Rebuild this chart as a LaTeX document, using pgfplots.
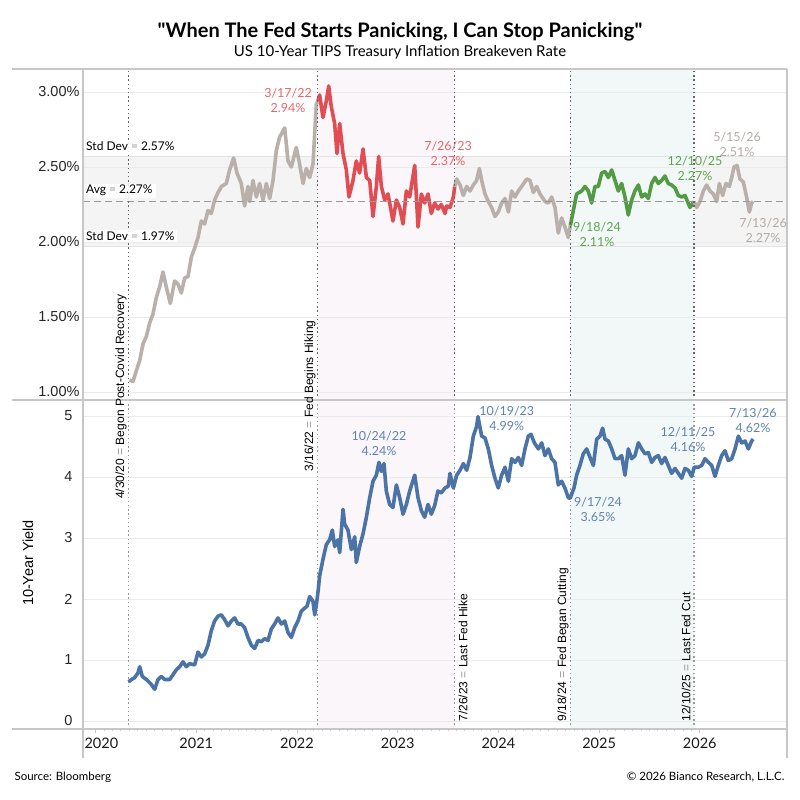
\documentclass[border=0pt]{standalone}
\usepackage{fontspec}
\setmainfont{Lato}
\newfontfamily\arial{Liberation Sans}
\usepackage{pgfplots}
\pgfplotsset{compat=1.18}
\definecolor{graySeries}{RGB}{186,176,171}
\definecolor{redSeries}{RGB}{224,78,84}
\definecolor{greenSeries}{RGB}{82,155,68}
\definecolor{blueSeries}{RGB}{75,115,165}
\definecolor{pinkshade}{RGB}{251,246,250}
\definecolor{tealshade}{RGB}{242,248,247}
\definecolor{bandgray}{RGB}{244,244,244}
\definecolor{redLbl}{RGB}{232,100,107}
\definecolor{greenLbl}{RGB}{95,165,80}
\definecolor{grayLbl}{RGB}{180,170,165}
\definecolor{blueLbl}{RGB}{95,130,180}
\definecolor{eqgray}{RGB}{150,150,150}
\begin{document}
\begin{tikzpicture}

% ---------------- TOP PANEL ----------------
\begin{axis}[
 set layers,
 at={(83pt,400pt)}, anchor=south west,
 scale only axis, width=704pt, height=331pt,
 xmin=2019.875, xmax=2026.866,
 ymin=0.9467, ymax=3.1533,
 axis line style={draw=none},
 xtick=\empty,
 ytick={1,1.5,2,2.5,3},
 yticklabels={1.00\%,1.50\%,2.00\%,2.50\%,3.00\%},
 yticklabel style={font=\arial\fontsize{14.5}{16}\selectfont, text=black!85},
 ytick style={draw=none},
 ymajorgrids, grid style={color=black!8, line width=0.8pt},
]
\begin{pgfonlayer}{axis background}
\fill[bandgray] (axis cs:2019.875,1.97) rectangle (axis cs:2026.866,2.57);
\fill[pinkshade] (axis cs:2022.205,0.9467) rectangle (axis cs:2023.566,3.1533);
\fill[tealshade] (axis cs:2024.715,0.9467) rectangle (axis cs:2025.942,3.1533);
\draw[black!11, line width=0.8pt] (axis cs:2019.875,2.57) -- (axis cs:2026.866,2.57);
\draw[black!11, line width=0.8pt] (axis cs:2019.875,1.97) -- (axis cs:2026.866,1.97);
\end{pgfonlayer}

\addplot[graySeries, line width=3.6pt, line join=round] coordinates {
(2020.338,1.08)(2020.371,1.07)(2020.404,1.14)(2020.438,1.21)(2020.471,1.32)(2020.504,1.37)(2020.537,1.46)(2020.570,1.52)(2020.603,1.63)(2020.636,1.70)(2020.669,1.80)(2020.702,1.70)(2020.742,1.59)(2020.785,1.74)(2020.818,1.72)(2020.851,1.66)(2020.885,1.76)(2020.918,1.77)(2020.951,1.90)(2020.984,1.96)(2021.017,2.03)(2021.050,2.14)(2021.083,2.12)(2021.116,2.21)(2021.149,2.19)(2021.182,2.28)(2021.216,2.33)(2021.249,2.37)(2021.298,2.39)(2021.331,2.48)(2021.371,2.56)(2021.404,2.46)(2021.447,2.39)(2021.480,2.24)(2021.513,2.37)(2021.530,2.27)(2021.563,2.41)(2021.596,2.30)(2021.629,2.39)(2021.662,2.28)(2021.696,2.39)(2021.729,2.29)(2021.762,2.41)(2021.795,2.61)(2021.828,2.70)(2021.878,2.76)(2021.911,2.54)(2021.944,2.50)(2021.993,2.63)(2022.026,2.52)(2022.060,2.39)(2022.093,2.49)(2022.126,2.43)(2022.159,2.52)(2022.192,2.92)(2022.208,2.94)
};
\addplot[redSeries, line width=3.6pt, line join=round] coordinates {
(2022.208,2.94)(2022.225,2.98)(2022.258,2.83)(2022.291,2.94)(2022.315,3.04)(2022.341,2.90)(2022.374,2.79)(2022.397,2.59)(2022.424,2.79)(2022.457,2.59)(2022.490,2.48)(2022.516,2.30)(2022.556,2.41)(2022.589,2.54)(2022.622,2.46)(2022.656,2.62)(2022.689,2.43)(2022.722,2.41)(2022.755,2.17)(2022.788,2.37)(2022.811,2.57)(2022.838,2.37)(2022.871,2.28)(2022.904,2.32)(2022.953,2.14)(2022.987,2.28)(2023.020,2.23)(2023.053,2.12)(2023.086,2.34)(2023.119,2.30)(2023.169,2.51)(2023.202,2.10)(2023.235,2.32)(2023.268,2.26)(2023.301,2.32)(2023.334,2.19)(2023.367,2.26)(2023.400,2.22)(2023.433,2.25)(2023.470,2.19)(2023.486,2.24)(2023.519,2.23)(2023.553,2.30)(2023.566,2.37)
};
\addplot[graySeries, line width=3.6pt, line join=round] coordinates {
(2023.566,2.37)(2023.586,2.42)(2023.619,2.38)(2023.652,2.31)(2023.685,2.37)(2023.718,2.34)(2023.751,2.38)(2023.784,2.41)(2023.811,2.49)(2023.834,2.41)(2023.867,2.32)(2023.900,2.27)(2023.933,2.23)(2023.966,2.17)(2023.999,2.20)(2024.032,2.26)(2024.066,2.29)(2024.099,2.20)(2024.132,2.34)(2024.165,2.30)(2024.198,2.34)(2024.231,2.37)(2024.281,2.42)(2024.314,2.41)(2024.347,2.33)(2024.380,2.37)(2024.413,2.32)(2024.463,2.27)(2024.496,2.26)(2024.529,2.30)(2024.562,2.23)(2024.595,2.06)(2024.628,2.16)(2024.661,2.10)(2024.694,2.03)(2024.715,2.11)
};
\addplot[greenSeries, line width=3.6pt, line join=round] coordinates {
(2024.715,2.11)(2024.744,2.21)(2024.777,2.32)(2024.827,2.34)(2024.860,2.37)(2024.893,2.34)(2024.926,2.26)(2024.959,2.37)(2024.992,2.37)(2025.026,2.46)(2025.059,2.47)(2025.092,2.43)(2025.125,2.48)(2025.158,2.41)(2025.191,2.34)(2025.224,2.39)(2025.257,2.30)(2025.290,2.18)(2025.323,2.28)(2025.356,2.34)(2025.390,2.38)(2025.423,2.30)(2025.456,2.32)(2025.489,2.29)(2025.522,2.39)(2025.555,2.43)(2025.588,2.39)(2025.621,2.41)(2025.654,2.44)(2025.687,2.39)(2025.720,2.38)(2025.754,2.36)(2025.787,2.31)(2025.820,2.30)(2025.853,2.31)(2025.903,2.23)(2025.942,2.27)
};
\addplot[graySeries, line width=3.6pt, line join=round] coordinates {
(2025.942,2.27)(2025.969,2.23)(2026.002,2.27)(2026.035,2.34)(2026.068,2.38)(2026.101,2.34)(2026.134,2.32)(2026.168,2.27)(2026.194,2.39)(2026.227,2.31)(2026.260,2.39)(2026.293,2.37)(2026.317,2.43)(2026.340,2.50)(2026.370,2.51)(2026.399,2.42)(2026.432,2.40)(2026.465,2.30)(2026.492,2.20)(2026.515,2.26)(2026.530,2.27)
};

\draw[black!40, line width=1.6pt, dash pattern=on 7pt off 4pt] (axis cs:2019.875,2.27) -- (axis cs:2026.866,2.27);

\draw[black!60, line width=1.4pt, dash pattern=on 1.4pt off 2.8pt] (axis cs:2020.329,0.9467) -- (axis cs:2020.329,3.1533);
\draw[black!60, line width=1.4pt, dash pattern=on 1.4pt off 2.8pt] (axis cs:2022.205,0.9467) -- (axis cs:2022.205,3.1533);
\draw[black!60, line width=1.4pt, dash pattern=on 1.4pt off 2.8pt] (axis cs:2023.566,0.9467) -- (axis cs:2023.566,3.1533);
\draw[black!60, line width=1.4pt, dash pattern=on 1.4pt off 2.8pt] (axis cs:2024.715,0.9467) -- (axis cs:2024.715,3.1533);
\draw[black!60, line width=1.4pt, dash pattern=on 1.4pt off 2.8pt] (axis cs:2025.942,0.9467) -- (axis cs:2025.942,3.1533);

\node[anchor=west, fill=white, fill opacity=0.85, text opacity=1, inner xsep=3pt, inner ysep=1.5pt, font=\fontsize{12}{14}\selectfont] at (axis cs:2019.875,2.64) {Std Dev {\color{eqgray}=} 2.57\%};
\node[anchor=west, fill=white, fill opacity=0.85, text opacity=1, inner xsep=3pt, inner ysep=1.5pt, font=\fontsize{12}{14}\selectfont] at (axis cs:2019.875,2.342) {Avg {\color{eqgray}=} 2.27\%};
\node[anchor=west, fill=white, fill opacity=0.85, text opacity=1, inner xsep=3pt, inner ysep=1.5pt, font=\fontsize{12}{14}\selectfont] at (axis cs:2019.875,2.042) {Std Dev {\color{eqgray}=} 1.97\%};

\node[align=center, text=redLbl, font=\fontsize{12.5}{15}\selectfont] at (axis cs:2021.911,2.943) {3/17/22\\2.94\%};
\node[align=center, text=redLbl, font=\fontsize{12.5}{15}\selectfont] at (axis cs:2023.500,2.587) {7/26/23\\2.37\%};
\node[align=center, text=greenLbl, font=\fontsize{12.5}{15}\selectfont] at (axis cs:2024.979,2.047) {9/18/24\\2.11\%};
\node[align=center, text=greenLbl, font=\fontsize{12.5}{15}\selectfont] at (axis cs:2025.952,2.49) {12/10/25\\2.27\%};
\node[align=center, text=grayLbl, font=\fontsize{12.5}{15}\selectfont] at (axis cs:2026.370,2.653) {5/15/26\\2.51\%};
\node[align=center, text=grayLbl, font=\fontsize{12.5}{15}\selectfont] at (axis cs:2026.628,2.08) {7/13/26\\2.27\%};
\end{axis}

% ---------------- BOTTOM PANEL ----------------
\begin{axis}[
 set layers,
 at={(83pt,71pt)}, anchor=south west,
 scale only axis, width=704pt, height=329pt,
 xmin=2019.875, xmax=2026.866,
 ymin=-0.1311, ymax=5.2623,
 axis line style={draw=none},
 /pgf/number format/assume math mode=true,
 xtick={2020,2021,2022,2023,2024,2025,2026},
 xticklabels={\makebox[0pt][l]{\hspace{-11pt}2020},2021,2022,2023,2024,2025,2026},
 minor x tick num=11,
 xtick pos=bottom,
 tick align=outside,
 major tick length=4pt, minor tick length=2.5pt,
 xtick style={color=black!22, line width=0.8pt},
 minor tick style={color=black!12, line width=0.6pt},
 xticklabel style={font=\fontsize{14.5}{16}\selectfont, text=black!90, yshift=-1pt},
 ytick={0,1,2,3,4,5},
 yticklabels={0,1,2,3,4,5},
 yticklabel style={font=\arial\fontsize{14.5}{16}\selectfont, text=black!85, xshift=-3pt},
 ytick style={draw=none},
 ymajorgrids, grid style={color=black!8, line width=0.8pt},
]
\begin{pgfonlayer}{axis background}
\fill[pinkshade] (axis cs:2022.205,-0.1311) rectangle (axis cs:2023.566,5.2623);
\fill[tealshade] (axis cs:2024.715,-0.1311) rectangle (axis cs:2025.942,5.2623);
\end{pgfonlayer}

\draw[black!40, line width=1.4pt, dash pattern=on 1.4pt off 2.8pt] (axis cs:2020.329,-0.1311) -- (axis cs:2020.329,5.2623);
\draw[black!40, line width=1.4pt, dash pattern=on 1.4pt off 2.8pt] (axis cs:2022.205,-0.1311) -- (axis cs:2022.205,5.2623);
\draw[black!40, line width=1.4pt, dash pattern=on 1.4pt off 2.8pt] (axis cs:2023.566,-0.1311) -- (axis cs:2023.566,5.2623);
\draw[black!40, line width=1.4pt, dash pattern=on 1.4pt off 2.8pt] (axis cs:2024.715,-0.1311) -- (axis cs:2024.715,5.2623);
\draw[black!40, line width=1.4pt, dash pattern=on 1.4pt off 2.8pt] (axis cs:2025.942,-0.1311) -- (axis cs:2025.942,5.2623);

\addplot[blueSeries, line width=3.6pt, line join=round] coordinates {
(2020.328,0.64)(2020.355,0.68)(2020.388,0.71)(2020.421,0.79)(2020.438,0.89)(2020.464,0.73)(2020.504,0.68)(2020.553,0.60)(2020.587,0.52)(2020.620,0.68)(2020.653,0.73)(2020.686,0.68)(2020.736,0.68)(2020.769,0.76)(2020.802,0.84)(2020.835,0.89)(2020.868,0.97)(2020.901,0.89)(2020.934,0.94)(2020.984,0.92)(2021.017,1.13)(2021.050,1.05)(2021.083,1.10)(2021.116,1.24)(2021.149,1.48)(2021.182,1.64)(2021.216,1.72)(2021.249,1.74)(2021.282,1.66)(2021.315,1.56)(2021.348,1.64)(2021.381,1.69)(2021.414,1.59)(2021.447,1.59)(2021.480,1.53)(2021.513,1.37)(2021.547,1.24)(2021.580,1.19)(2021.613,1.32)(2021.646,1.30)(2021.679,1.35)(2021.712,1.32)(2021.745,1.51)(2021.778,1.59)(2021.811,1.69)(2021.845,1.59)(2021.878,1.64)(2021.911,1.45)(2021.944,1.37)(2021.977,1.53)(2022.010,1.64)(2022.043,1.80)(2022.076,1.85)(2022.099,1.88)(2022.126,2.04)(2022.159,1.96)(2022.176,1.74)(2022.192,1.90)(2022.209,2.12)(2022.225,2.38)(2022.258,2.65)(2022.291,2.89)(2022.324,2.97)(2022.351,3.13)(2022.374,2.86)(2022.407,2.97)(2022.424,2.76)(2022.457,3.47)(2022.473,3.23)(2022.506,3.13)(2022.540,2.81)(2022.573,3.02)(2022.589,2.60)(2022.622,2.86)(2022.656,3.07)(2022.689,3.34)(2022.722,3.66)(2022.755,3.93)(2022.788,4.03)(2022.814,4.24)(2022.838,4.09)(2022.864,4.22)(2022.887,3.77)(2022.920,3.55)(2022.953,3.50)(2022.987,3.87)(2023.020,3.66)(2023.053,3.39)(2023.086,3.55)(2023.119,3.77)(2023.169,4.03)(2023.202,3.66)(2023.235,3.45)(2023.268,3.34)(2023.301,3.55)(2023.334,3.39)(2023.367,3.53)(2023.400,3.77)(2023.433,3.74)(2023.470,3.82)(2023.503,3.85)(2023.519,4.06)(2023.553,3.82)(2023.586,4.03)(2023.619,4.11)(2023.652,4.22)(2023.685,4.11)(2023.718,4.32)(2023.751,4.67)(2023.784,4.83)(2023.797,4.99)(2023.834,4.67)(2023.867,4.64)(2023.900,4.46)(2023.933,4.19)(2023.966,3.98)(2023.999,3.82)(2024.032,4.03)(2024.066,4.16)(2024.099,3.93)(2024.132,4.30)(2024.165,4.24)(2024.198,4.32)(2024.231,4.19)(2024.264,4.46)(2024.297,4.67)(2024.324,4.70)(2024.357,4.56)(2024.397,4.46)(2024.430,4.56)(2024.463,4.35)(2024.496,4.46)(2024.529,4.30)(2024.562,4.24)(2024.595,3.87)(2024.628,3.93)(2024.661,3.82)(2024.694,3.66)(2024.712,3.65)(2024.751,3.82)(2024.777,4.03)(2024.810,4.19)(2024.843,4.38)(2024.877,4.46)(2024.910,4.32)(2024.943,4.19)(2024.976,4.62)(2025.009,4.67)(2025.035,4.80)(2025.059,4.62)(2025.092,4.59)(2025.125,4.46)(2025.158,4.30)(2025.191,4.30)(2025.224,4.35)(2025.257,4.03)(2025.290,4.46)(2025.323,4.30)(2025.356,4.35)(2025.390,4.56)(2025.423,4.46)(2025.456,4.38)(2025.489,4.40)(2025.522,4.24)(2025.555,4.32)(2025.588,4.35)(2025.621,4.22)(2025.654,4.32)(2025.687,4.19)(2025.720,4.06)(2025.754,4.14)(2025.787,4.06)(2025.820,3.98)(2025.853,4.14)(2025.886,4.11)(2025.919,4.01)(2025.945,4.16)(2025.985,4.16)(2026.019,4.19)(2026.052,4.30)(2026.085,4.24)(2026.118,4.19)(2026.151,4.01)(2026.184,4.19)(2026.217,4.35)(2026.250,4.43)(2026.283,4.27)(2026.317,4.30)(2026.350,4.46)(2026.383,4.67)(2026.416,4.56)(2026.449,4.59)(2026.482,4.46)(2026.515,4.59)(2026.530,4.62)
};

\node[align=center, text=blueLbl, font=\fontsize{12.5}{15}\selectfont] at (axis cs:2022.814,4.549) {10/24/22\\4.24\%};
\node[align=center, text=blueLbl, font=\fontsize{12.5}{15}\selectfont] at (axis cs:2024.083,4.959) {10/19/23\\4.99\%};
\node[align=center, text=blueLbl, font=\fontsize{12.5}{15}\selectfont] at (axis cs:2024.989,3.467) {9/17/24\\3.65\%};
\node[align=center, text=blueLbl, font=\fontsize{12.5}{15}\selectfont] at (axis cs:2025.883,4.615) {12/11/25\\4.16\%};
\node[align=center, text=blueLbl, font=\fontsize{12.5}{15}\selectfont] at (axis cs:2026.528,4.926) {7/13/26\\4.62\%};
\end{axis}

% ---------------- frame ----------------
\draw[black!22, line width=1.2pt] (12pt,731pt) -- (787pt,731pt);
\draw[black!22, line width=1.2pt] (12pt,400pt) -- (787pt,400pt);
\draw[black!22, line width=1.2pt] (12pt,71pt) -- (787pt,71pt);
\draw[black!22, line width=1.2pt] (83pt,731pt) -- (83pt,42pt);
\draw[black!22, line width=1.2pt] (787pt,731pt) -- (787pt,42pt);

% vertical event labels
\node[rotate=90, font=\arial\fontsize{12}{14}\selectfont] at (121pt,403.5pt) {4/30/20 {\color{eqgray}=} Begon Post-Covid Recovery};
\node[rotate=90, font=\arial\fontsize{12}{14}\selectfont] at (310pt,404pt) {3/16/22 {\color{eqgray}=} Fed Begins Hiking};
\node[rotate=90, anchor=west, font=\arial\fontsize{12}{14}\selectfont] at (463pt,75pt) {7/26/23 {\color{eqgray}=} Last Fed Hike};
\node[rotate=90, anchor=west, font=\arial\fontsize{12}{14}\selectfont] at (563pt,75pt) {9/18/24 {\color{eqgray}=} Fed Began Cutting};
\node[rotate=90, anchor=west, font=\arial\fontsize{12}{14}\selectfont] at (686pt,75pt) {12/10/25 {\color{eqgray}=} Last Fed Cut};

\node[rotate=90, font=\arial\fontsize{14.5}{16}\selectfont] at (28pt,237pt) {10-Year Yield};

% titles
\node[font=\bfseries\fontsize{20}{23}\selectfont\addfontfeatures{Ligatures=TeXOff}] at (400pt,768pt) {"When The Fed Starts Panicking, I Can Stop Panicking"};
\node[font=\fontsize{15}{17}\selectfont] at (400pt,748pt) {US 10-Year TIPS Treasury Inflation Breakeven Rate};

% footer
\node[anchor=west, font=\fontsize{11.5}{13}\selectfont] at (11pt,23pt) {Source: Bloomberg};
\node[anchor=east, font=\fontsize{11.5}{13}\selectfont] at (788pt,23pt) {\textcopyright{} 2026 Bianco Research, L.L.C.};

\pgfresetboundingbox
\path (0pt,0pt) rectangle (800pt,800pt);
\end{tikzpicture}
\end{document}
